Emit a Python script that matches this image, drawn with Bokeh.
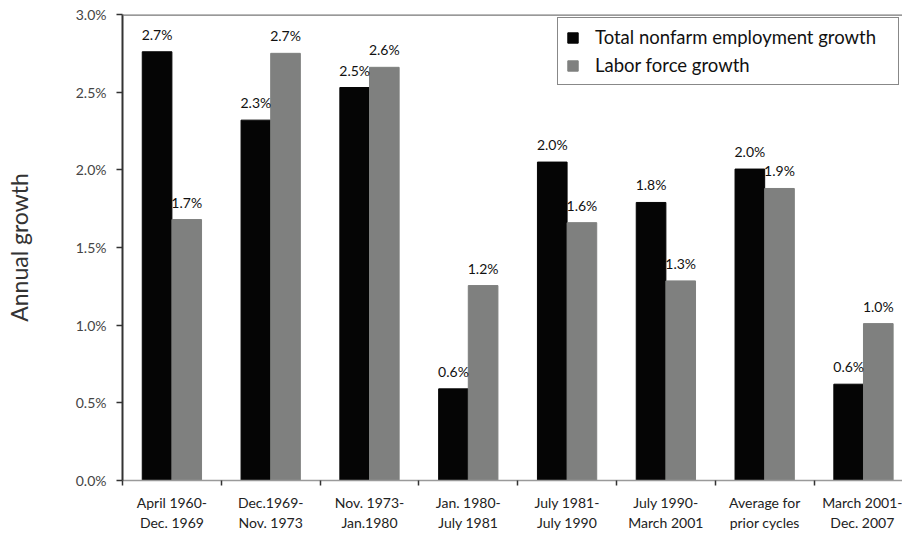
import numpy as np
from bokeh.plotting import figure
from bokeh.models import (ColumnDataSource, Range1d, FixedTicker, PrintfTickFormatter,
                          Legend, LegendItem, Span)
from bokeh.core.properties import value
from bokeh.embed import file_html
from bokeh.resources import INLINE

categories = ["April 1960-\nDec. 1969", "Dec.1969-\nNov. 1973", "Nov. 1973-\nJan.1980",
              "Jan. 1980-\nJuly 1981", "July 1981-\nJuly 1990", "July 1990-\nMarch 2001",
              "Average for\nprior cycles", "March 2001-\nDec. 2007"]
employment = [2.76, 2.32, 2.53, 0.59, 2.05, 1.79, 2.005, 0.62]
labor_force = [1.68, 2.75, 2.66, 1.255, 1.66, 1.285, 1.88, 1.01]
employment_labels = ["2.7%", "2.3%", "2.5%", "0.6%", "2.0%", "1.8%", "2.0%", "0.6%"]
labor_labels = ["1.7%", "2.7%", "2.6%", "1.2%", "1.6%", "1.3%", "1.9%", "1.0%"]
y_ticks = [0.0, 0.5, 1.0, 1.5, 2.0, 2.5, 3.0]

FONT = "Lato"
n = len(categories)
centers = np.arange(n) + 0.5
bw = 0.3

src_e = ColumnDataSource(dict(x=centers - bw / 2, top=employment, lab=employment_labels))
src_l = ColumnDataSource(dict(x=centers + bw / 2, top=labor_force, lab=labor_labels))

p = figure(width=902, height=533, output_backend="svg", toolbar_location=None,
           x_range=Range1d(0, 7.895), y_range=Range1d(0, 3.0),
           min_border_left=122, min_border_right=0, min_border_top=14, min_border_bottom=0)
p.outline_line_color = None
p.xgrid.visible = False
p.ygrid.visible = False

r_e = p.vbar(x="x", top="top", width=bw, bottom=0, source=src_e,
             fill_color="#050505", line_color="#050505")
r_l = p.vbar(x="x", top="top", width=bw, bottom=0, source=src_l,
             fill_color="#7f807f", line_color="#7f807f")

for src in (src_e, src_l):
    p.text(x="x", y="top", text="lab", source=src, text_align="center",
           text_baseline="bottom", y_offset=-9, text_font=value(FONT),
           text_font_size="14px", text_color="#111111")

p.add_layout(Span(location=3.0, dimension="width", line_color="#777777", line_width=2.5))

# x axis
p.xaxis.ticker = FixedTicker(ticks=list(centers), minor_ticks=list(range(0, n + 1)))
p.xaxis.major_label_overrides = {float(c): lab for c, lab in zip(centers, categories)}
p.xaxis.major_tick_out = 0
p.xaxis.major_tick_in = 0
p.xaxis.minor_tick_out = 5
p.xaxis.minor_tick_in = 0
p.xaxis.minor_tick_line_color = "#333333"
p.xaxis.minor_tick_line_width = 1.5
p.xaxis.axis_line_color = "#9a9a9a"
p.xaxis.axis_line_width = 1.5
p.xaxis.major_label_text_font = FONT
p.xaxis.major_label_text_font_size = "14px"
p.xaxis.major_label_text_color = "#222222"
p.xaxis.major_label_standoff = 8

# y axis
p.yaxis.ticker = FixedTicker(ticks=y_ticks, minor_ticks=[])
p.yaxis.formatter = PrintfTickFormatter(format="%.1f%%")
p.yaxis.major_tick_out = 6
p.yaxis.major_tick_in = 0
p.yaxis.major_tick_line_color = "#333333"
p.yaxis.major_tick_line_width = 1.5
p.yaxis.axis_line_color = "#333333"
p.yaxis.axis_line_width = 2
p.yaxis.major_label_text_font = FONT
p.yaxis.major_label_text_font_size = "14px"
p.yaxis.major_label_text_color = "#444444"
p.yaxis.major_label_standoff = 10
p.yaxis.axis_label = "Annual growth"
p.yaxis.axis_label_text_font = FONT
p.yaxis.axis_label_text_font_style = "normal"
p.yaxis.axis_label_text_font_size = "23px"
p.yaxis.axis_label_text_color = "#333333"
p.yaxis.axis_label_standoff = 40

legend = Legend(items=[LegendItem(label="Total nonfarm employment growth", renderers=[r_e]),
                       LegendItem(label="Labor force growth", renderers=[r_l])],
                location=(435, 395), orientation="vertical",
                glyph_width=13, glyph_height=13, label_standoff=16, label_width=295,
                label_text_font=FONT, label_text_font_size="18.5px", label_text_color="#111111",
                label_height=20, spacing=6, padding=8, margin=0,
                border_line_color="#111111", border_line_width=1,
                background_fill_alpha=1.0)
p.add_layout(legend)

open("out.html", "w").write(file_html(p, INLINE))
